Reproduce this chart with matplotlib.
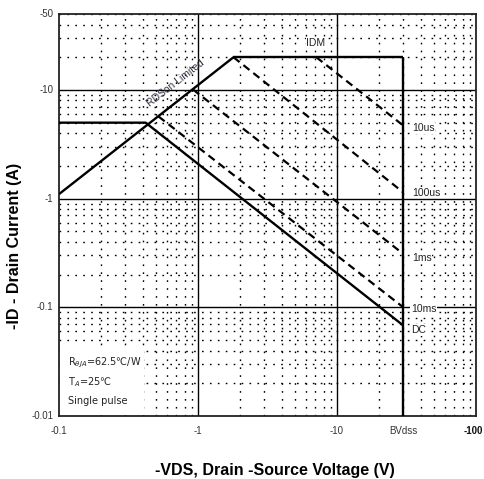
import matplotlib
matplotlib.use("Agg")
import matplotlib.pyplot as plt
from matplotlib.patches import Rectangle
from matplotlib.ticker import FixedLocator, LogLocator, NullFormatter

plt.rcParams['font.family'] = ['Liberation Sans', 'DejaVu Sans']

# ---- data (magnitudes; axes are labelled negative) ----
rds_v = [0.1, 1.8]
rds_i = [1.1, 20]
idm_v = [1.8, 30]
idm_i = [20, 20]
bv_v = [30, 30]
bv_i = [20, 0.01]
dc_v = [0.1, 0.42, 30]
dc_i = [5, 5, 0.068]
ms10_v = [0.52, 30]
ms10_i = [5.7, 0.1]
ms1_v = [0.92, 30]
ms1_i = [10.1, 0.31]
us100_v = [1.8, 30]
us100_i = [20, 1.14]
us10_v = [7.1, 30]
us10_i = [20, 4.7]

xticks = [0.1, 1, 10, 30, 100]
xticklabels = ['-0.1', '-1', '-10', 'BVdss', '-100']
yticks = [0.01, 0.1, 1, 10, 50]
yticklabels = ['-0.01', '-0.1', '-1', '-10', '-50']

fig = plt.figure(figsize=(4.84, 4.79), dpi=100)
ax = fig.add_axes([0.1219, 0.1315, 0.8616, 0.8393])
ax.set_xscale('log')
ax.set_yscale('log')
ax.set_xlim(0.1, 100)
ax.set_ylim(0.01, 50)

# grid
ax.xaxis.set_major_locator(FixedLocator([1, 10]))
ax.yaxis.set_major_locator(FixedLocator([0.1, 1, 10]))
ax.xaxis.set_minor_locator(LogLocator(base=10, subs=range(2, 10), numticks=20))
ax.yaxis.set_minor_locator(LogLocator(base=10, subs=range(2, 10), numticks=20))
ax.xaxis.set_minor_formatter(NullFormatter())
ax.yaxis.set_minor_formatter(NullFormatter())
ax.set_axisbelow(True)
ax.grid(which='major', color='black', lw=1.0, ls='-')
ax.grid(which='minor', color='black', lw=1.0, ls=(0, (1.2, 4.5)))
ax.tick_params(which='both', length=0, labelbottom=False, labelleft=False)

for s in ax.spines.values():
    s.set_linewidth(1.3)
    s.set_color('#222222')

tick_color = '#333333'
# x tick labels drawn as text (last one right-aligned at the figure edge)
for xv, lab in zip(xticks, xticklabels):
    if lab == '-100':
        ax.text(112, 0.0073, lab, ha='right', va='center', fontsize=7,
                fontweight='bold', clip_on=False, color='#111111')
    else:
        ax.text(xv, 0.0073, lab, ha='center', va='center', fontsize=7,
                clip_on=False, color=tick_color)
# y tick labels
for yv, lab in zip(yticks, yticklabels):
    ax.annotate(lab, xy=(0, yv), xycoords=('axes fraction', 'data'),
                xytext=(-4, 0), textcoords='offset points',
                ha='right', va='center', fontsize=7, color=tick_color,
                annotation_clip=False)

# white box for the notes
ax.add_patch(Rectangle((0.003, 0.003), 0.2, 0.168, transform=ax.transAxes,
                       facecolor='white', edgecolor='none', zorder=1.5))

solid = dict(color='black', lw=1.7, zorder=3, solid_capstyle='butt')
dash = dict(color='black', lw=1.6, zorder=3, ls=(0, (3.5, 2.2)))
ax.plot(rds_v, rds_i, **solid)
ax.plot(idm_v, idm_i, **solid)
ax.plot(bv_v, bv_i, **solid)
ax.plot(dc_v, dc_i, **solid)
ax.plot(ms10_v, ms10_i, **dash)
ax.plot(ms1_v, ms1_i, **dash)
ax.plot(us100_v, us100_i, **dash)
ax.plot(us10_v, us10_i, **dash)

bb = dict(facecolor='white', edgecolor='none', pad=0.6)
lab_kw = dict(fontsize=7.5, color='#222222', zorder=4)
ax.text(7.06, 27, 'IDM', ha='center', va='center', bbox=bb, **lab_kw)
ax.text(34.5, 4.48, '10us', ha='left', va='center', bbox=bb, **lab_kw)
ax.text(34.5, 1.135, '100us', ha='left', va='center', bbox=bb, **lab_kw)
ax.text(34.5, 0.282, '1ms', ha='left', va='center', bbox=bb, **lab_kw)
ax.text(34.0, 0.096, '10ms', ha='left', va='center', bbox=bb, **lab_kw)
ax.text(34.0, 0.0617, 'DC', ha='left', va='center', bbox=bb, **lab_kw)
ax.text(0.69, 11.6, 'RDSon Limited', ha='center', va='center', rotation=38,
        fontsize=7.5, color='#333344', zorder=4)

note_kw = dict(ha='left', va='center', fontsize=7, color='#222222', zorder=4,
               family=['DejaVu Sans'])
ax.text(0.116, 0.0306, r'R$_{\theta JA}$=62.5℃/W', **note_kw)
ax.text(0.116, 0.0205, r'T$_{A}$=25℃', **note_kw)
ax.text(0.116, 0.01374, 'Single pulse', **note_kw)

fig.text(275 / 484, 1 - 470 / 479, '-VDS, Drain -Source Voltage (V)',
         ha='center', va='center', fontsize=11.5, fontweight='bold')
fig.text(15 / 484, 1 - 246 / 479, '-ID - Drain Current (A)', rotation=90,
         ha='center', va='center', fontsize=11.5, fontweight='bold')

fig.savefig('out.png', dpi=100)
